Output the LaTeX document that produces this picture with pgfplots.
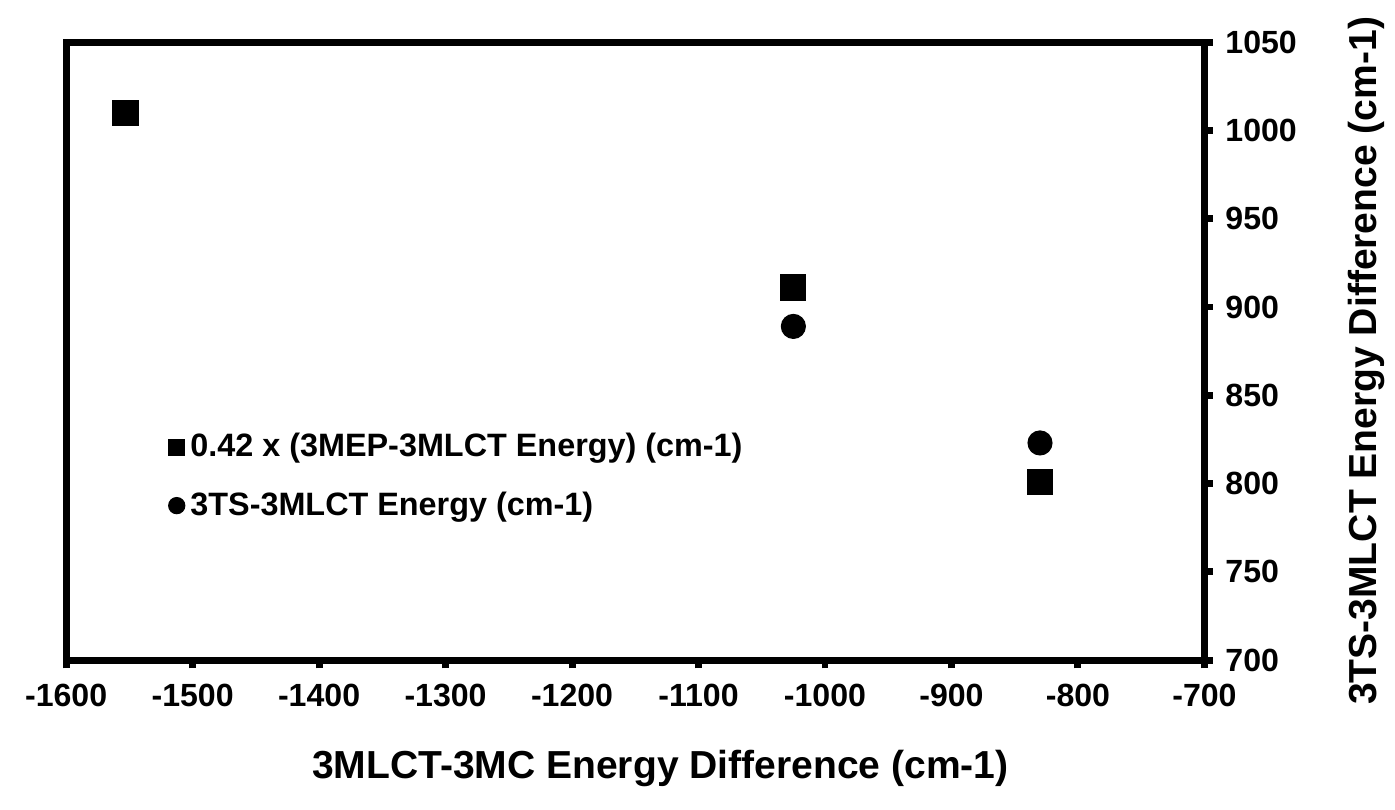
\documentclass[border=0pt]{standalone}
\usepackage{fontspec}
\setmainfont{Liberation Sans}
\usepackage{pgfplots}
\pgfplotsset{compat=1.18}
\begin{document}
\begin{tikzpicture}
\begin{axis}[
    scale only axis,
    width=408pt, height=221.5pt,
    xmin=-1600, xmax=-700,
    ymin=700, ymax=1050,
    xtick={-1600,-1500,...,-700},
    ytick={700,750,...,1050},
    axis line style={line width=2.5pt},
    every tick/.style={black, line width=2.5pt},
    major tick length=3pt,
    tick align=outside,
    xtick pos=bottom,
    ytick pos=right,
    yticklabel pos=right,
    /pgf/number format/assume math mode=true,
    /pgf/number format/1000 sep={},
    ticklabel style={font=\bfseries\fontsize{11.5}{13}\selectfont},
    xticklabel style={yshift=-2pt},
    yticklabel style={xshift=1pt},
    xlabel={3MLCT-3MC Energy Difference (cm-1)},
    ylabel={3TS-3MLCT Energy Difference (cm-1)},
    label style={font=\bfseries\fontsize{14}{16}\selectfont},
    xlabel style={at={(rel axis cs:0.5,0)}, anchor=center, yshift=-39pt, xshift=9pt},
    ylabel style={at={(rel axis cs:1,0.5)}, anchor=center, yshift=-58pt, xshift=-3.5pt},
    legend style={draw=none, fill=none, at={(axis cs:-1526,835)}, anchor=north west,
        font=\bfseries\fontsize{11.6}{13}\selectfont, row sep=7pt,
        /tikz/every even column/.append style={column sep=3pt}},
    legend cell align=left,
    legend image code/.code={\draw[only marks, mark size=2.9pt] plot coordinates {(0.15cm,0cm)};},
    clip=false,
]
\addplot[only marks, mark=square*, mark size=4.5pt, black] coordinates {
    (-1553, 1010) (-1025, 911) (-830, 801)
};
\addlegendentry{0.42 x (3MEP-3MLCT Energy) (cm-1)}
\addplot[only marks, mark=*, mark size=4.3pt, black] coordinates {
    (-1025, 889) (-830, 823)
};
\addlegendentry{3TS-3MLCT Energy (cm-1)}
\coordinate (o) at (rel axis cs:0,0);
\end{axis}
\pgfresetboundingbox
\path (o) ++(-23.7pt,-53.4pt) rectangle ++(500pt,290pt);
\end{tikzpicture}
\end{document}
